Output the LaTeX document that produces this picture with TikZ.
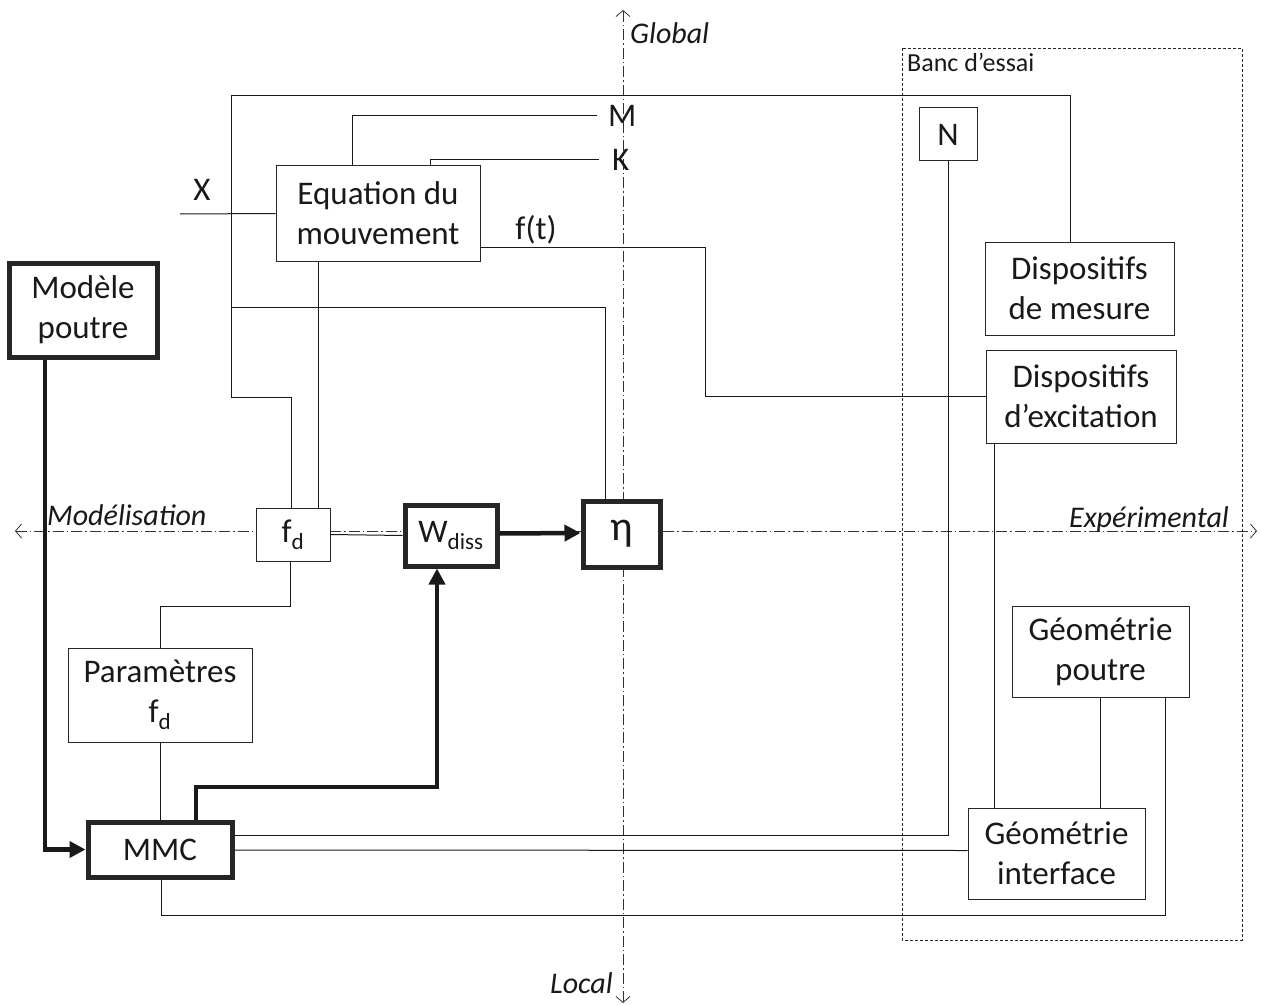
\documentclass[tikz,border=0pt]{standalone}
\usepackage{fontspec}
\setmainfont{Carlito}
\usetikzlibrary{arrows.meta,calc}
\begin{document}
\begin{tikzpicture}[x=1pt,y=-1pt,
  every node/.style={font=\fontsize{33}{40}\selectfont, text=black!90},
  box/.style={draw=black!85, line width=1pt, fill=white, align=center, inner sep=0pt},
  thickbox/.style={box, line width=5pt},
  wire/.style={draw=black!90, line width=1pt},
  thickwire/.style={draw=black!90, line width=4.5pt, -{Triangle[length=16pt,width=16pt]}},
  axis/.style={draw=black!80, line width=0.8pt, dash pattern=on 11pt off 3pt on 1.5pt off 3pt,
    {Straight Barb[length=6pt,width=14pt]}-{Straight Barb[length=6pt,width=14pt]}},
  lab/.style={font=\fontsize{30}{34}\selectfont\itshape, inner sep=0pt},
]
\useasboundingbox[fill=white] (0,0) rectangle (1261,1006);

% axes
\coordinate (atop) at (623,10);
\coordinate (abot) at (623,1003);
\coordinate (aleft) at (15,531);
\coordinate (aright) at (1257,531);
\draw[axis] (abot) -- (atop);
\draw[axis] (aleft) -- (aright);
\node[lab, anchor=west] (glob) at (630,33) {Global};
\node[lab, anchor=east] (loc) at (613,983) {Local};
\node[lab, anchor=base west] (mod) at (47,525) {Modélisation};
\node[lab, anchor=base east] (exp) at (1229,527) {Expérimental};

% Banc d'essai
\draw[black!85, line width=0.8pt, densely dashed] (902,48) rectangle (1242,940);
\node[font=\fontsize{26}{30}\selectfont, anchor=north west, inner sep=0pt] (banc) at (907,53) {Banc d’essai};

% boxes
\node[box, minimum width=204pt, minimum height=95pt] (eq) at (378,213.5) {Equation du\\mouvement};
\node[thickbox, minimum width=148pt, minimum height=94pt] (mp) at (83,310) {Modèle\\poutre};
\node[box, minimum width=74pt, minimum height=53pt] (fd) at (293,534.5) {f\textsubscript{d}};
\node[thickbox, minimum width=92pt, minimum height=61pt] (wd) at (451,535.5) {W\textsubscript{diss}};
\node[thickbox, minimum width=77pt, minimum height=66pt, font=\fontsize{42}{44}\selectfont] (eta) at (621.5,534) {η};
\node[box, minimum width=184pt, minimum height=94pt] (par) at (160,695) {Paramètres\\f\textsubscript{d}};
\node[thickbox, minimum width=144pt, minimum height=55pt] (mmc) at (160,849.5) {MMC};
\node[box, minimum width=58pt, minimum height=53pt] (N) at (948,134.5) {N};
\node[box, minimum width=189pt, minimum height=93pt] (dm) at (1079.5,288.5) {Dispositifs\\de mesure};
\node[box, minimum width=190pt, minimum height=93pt] (de) at (1081,396.5) {Dispositifs\\d’excitation};
\node[box, minimum width=177pt, minimum height=91pt] (gp) at (1100.5,651.5) {Géométrie\\poutre};
\node[box, minimum width=177pt, minimum height=91pt] (gi) at (1056.5,853.5) {Géométrie\\interface};

% labels
\node[inner sep=2pt, anchor=west] (M) at (606,116) {M};
\node[inner sep=2pt, anchor=west] (K) at (610,160) {K};
\node (X) at (202,190) {X};
\node (ft) at (536,230) {f(t)};

% thin wires
\draw[wire] ($(dm.north)+(-9.5,0)$) |- (231,96) -- (231,397) -- (291,397) -- ($(fd.north)+(-2,0)$);
\draw[wire] ($(eq.south)+(-60,0)$) -- ($(fd.north)+(25,0)$);
\coordinate (j1) at (231,307);
\draw[wire] (j1) -- (605,307) -- ($(eta.north)+(-16.5,0)$);
\draw[wire] ($(eq.north)+(-26,0)$) |- ($(M.west)+(-9,0)$);
\draw[wire] ($(eq.north)+(52,0)$) |- ($(K.west)+(-11,0)$);
\coordinate (xin) at (180,214);
\draw[wire] (xin) -- (eq.west);
\draw[wire] ($(eq.east)+(0,33.5)$) -- (705,247) |- (de.west);
\draw[wire] (N.south) |- ($(mmc.east)+(0,-14)$);
\draw[wire] ($(de.south)+(-87,0)$) -- ($(gi.north)+(-62.5,0)$);
\draw[wire] (gp.south) -- (gp.south |- gi.north);
\draw[wire] ($(gp.south)+(64.5,0)$) |- (161,915) -- ($(mmc.south)+(1,0)$);
\draw[wire] ($(gi.west)+(0,-3)$) -- ($(mmc.east)+(0,0.5)$);
\draw[wire] ($(fd.south)+(-3,0)$) |- (160,606) -- (par.north);
\draw[wire] (par.south) -- (mmc.north);
\draw[wire] (fd.east) -- (wd.west);

% thick wires
\draw[thickwire] ($(mp.south)+(-38,0)$) |- (mmc.west);
\draw[thickwire] ($(mmc.north)+(36,0)$) |- (437,787) -- ($(wd.south)+(-14,0)$);
\draw[thickwire] ($(wd.east)+(0,-2)$) -- ($(eta.west)+(0,-1)$);
\end{tikzpicture}
\end{document}
